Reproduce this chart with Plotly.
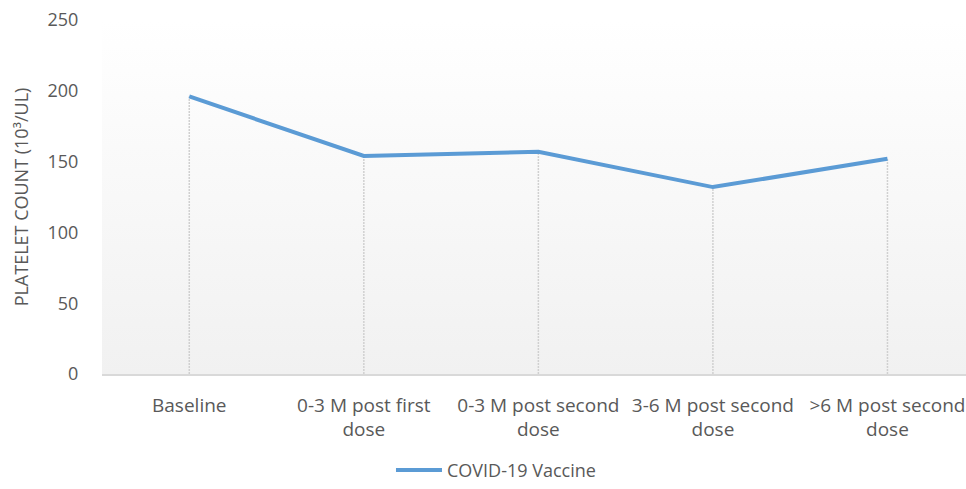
import plotly.graph_objects as go

categories = ["Baseline", "0-3 M post first<br>dose", "0-3 M post second<br>dose",
              "3-6 M post second<br>dose", ">6 M post second<br>dose"]
platelets = [196, 154, 157, 132, 152]
series_name = "COVID-19 Vaccine"
y_ticks = [0, 50, 100, 150, 200, 250]

idx = list(range(len(categories)))

fig = go.Figure()

# gradient plot-area background
fig.add_trace(go.Scatter(
    x=[-0.5, 4.5, 4.5, -0.5, -0.5], y=[0, 0, 250, 250, 0],
    mode="lines", line=dict(width=0), fill="toself",
    fillgradient=dict(type="vertical", colorscale=[[0, "#f1f1f1"], [1, "#ffffff"]]),
    hoverinfo="skip", showlegend=False))

# drop lines
dx, dy = [], []
for i, v in zip(idx, platelets):
    dx += [i, i, None]
    dy += [0, v, None]
fig.add_trace(go.Scatter(x=dx, y=dy, mode="lines",
                         line=dict(color="#d0d0d0", width=1.5, dash="2px,1px"),
                         hoverinfo="skip", showlegend=False))

fig.add_trace(go.Scatter(x=idx, y=platelets, mode="lines", name=series_name,
                         line=dict(color="#5b9bd5", width=4)))

fig.update_layout(
    width=966, height=489,
    margin=dict(l=102, r=0, t=20, b=109),
    paper_bgcolor="white", plot_bgcolor="white",
    font=dict(family="Open Sans", color="#595959", size=18),
    showlegend=True,
    legend=dict(orientation="h", x=0.456, xanchor="center", y=-0.272, yanchor="middle",
                font=dict(size=18, color="#595959"), itemwidth=46),
    xaxis=dict(range=[-0.5, 4.45], tickvals=idx, ticktext=categories, automargin=False,
               showgrid=False, zeroline=False, showline=True, linecolor="#d9d9d9",
               linewidth=1.5, ticks="outside", ticklen=13, tickcolor="rgba(0,0,0,0)",
               tickfont=dict(size=19, color="#595959"), ticklabeloverflow="allow"),
    yaxis=dict(range=[0, 250], tickvals=y_ticks, showgrid=False, zeroline=False,
               automargin=False, ticklabeloverflow="allow",
               showline=False, ticks="outside", ticklen=19, tickcolor="rgba(0,0,0,0)",
               tickfont=dict(size=18, color="#595959"),
               title=dict(text="PLATELET COUNT (10³/UL)", font=dict(size=18, color="#595959"),
                          standoff=14)),
)

fig.write_html("out.html", config={"displayModeBar": False},
               post_script="document.body.style.margin='0px';document.body.style.overflow='hidden';")
